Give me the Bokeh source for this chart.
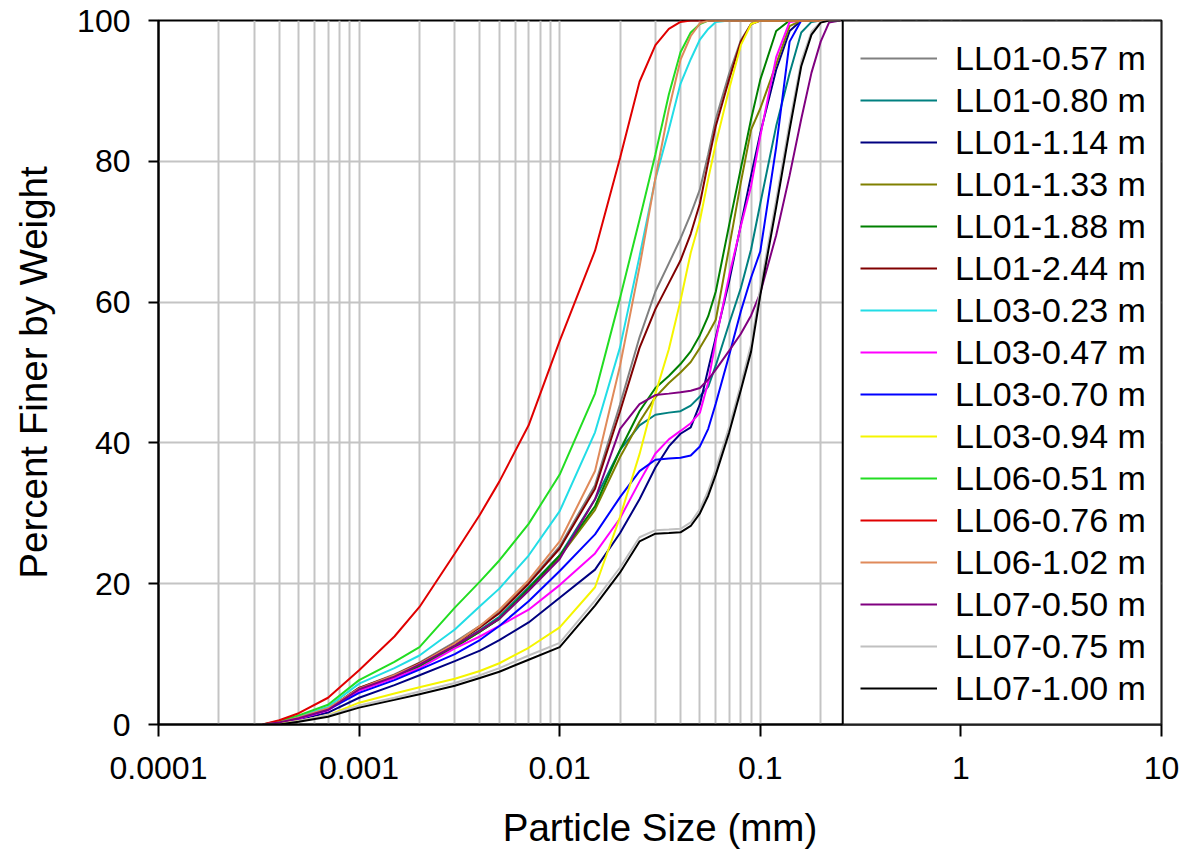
from bokeh.plotting import figure
from bokeh.models import Range1d, FixedTicker, BoxAnnotation
from bokeh.embed import file_html
from bokeh.resources import INLINE

# ---------------- data ----------------
SIZES = [0.00033, 0.0004, 0.0005, 0.0007, 0.001, 0.0015, 0.002, 0.003, 0.004, 0.005,
         0.007, 0.01, 0.015, 0.02, 0.025, 0.03, 0.035, 0.04, 0.045, 0.05,
         0.055, 0.06, 0.07, 0.08, 0.09, 0.1, 0.12, 0.14, 0.16, 0.18, 0.2, 0.22, 0.25]

SAMPLES = ["LL01-0.57 m", "LL01-0.80 m", "LL01-1.14 m", "LL01-1.33 m", "LL01-1.88 m",
           "LL01-2.44 m", "LL03-0.23 m", "LL03-0.47 m", "LL03-0.70 m", "LL03-0.94 m",
           "LL06-0.51 m", "LL06-0.76 m", "LL06-1.02 m", "LL07-0.50 m", "LL07-0.75 m",
           "LL07-1.00 m"]

LL01_057 = [0, 0.3, 0.9, 2.2, 5.2, 7.1, 8.8, 11.7, 14.0, 16.0, 20.2, 25.3, 34.0, 45.5, 55.0, 61.5, 65.5,
            69.0, 72.5, 76.0, 81.0, 86.0, 92.5, 97.2, 99.5, 100, 100, 100, 100, 100, 100, 100, 100]
LL01_080 = [0, 0.3, 0.9, 2.2, 5.0, 6.9, 8.5, 11.2, 13.4, 15.3, 19.5, 24.0, 32.0, 39.0, 42.5, 44.0, 44.3,
            44.5, 45.3, 46.6, 48.0, 51.0, 57.0, 62.0, 67.5, 74.0, 85.0, 92.5, 98.3, 99.8, 100, 100, 100]
LL01_114 = [0, 0.2, 0.7, 1.7, 3.8, 5.6, 7.0, 9.0, 10.5, 12.0, 14.5, 18.0, 22.0, 27.2, 32.0, 36.5, 39.5,
            41.3, 42.2, 45.5, 50.5, 55.0, 63.0, 71.0, 78.0, 84.0, 93.0, 98.5, 100, 100, 100, 100, 100]
LL01_133 = [0, 0.3, 0.9, 2.1, 4.9, 6.7, 8.3, 11.0, 13.2, 15.0, 19.2, 23.8, 30.5, 38.0, 43.0, 46.5, 48.5,
            50.0, 51.5, 53.5, 55.5, 57.5, 67.8, 77.0, 84.5, 87.5, 93.8, 99.2, 100, 100, 100, 100, 100]
LL01_188 = [0, 0.3, 0.9, 2.1, 4.9, 6.7, 8.3, 11.0, 13.2, 15.0, 19.3, 24.0, 31.0, 39.0, 44.5, 47.8, 49.5,
            51.2, 53.0, 55.3, 58.0, 61.5, 71.0, 79.0, 86.0, 91.6, 98.5, 100, 100, 100, 100, 100, 100]
LL01_244 = [0, 0.3, 0.9, 2.2, 5.2, 7.0, 8.7, 11.5, 13.8, 15.8, 20.0, 25.0, 33.5, 44.5, 53.5, 59.0, 62.7,
            65.9, 69.7, 74.0, 79.9, 85.0, 91.7, 97.0, 99.5, 100, 100, 100, 100, 100, 100, 100, 100]
LL03_023 = [0, 0.4, 1.1, 2.5, 5.8, 8.0, 9.8, 13.5, 16.8, 19.3, 24.0, 30.3, 41.5, 53.6, 66.5, 77.5, 84.5,
            91.0, 94.5, 97.3, 98.8, 99.8, 100, 100, 100, 100, 100, 100, 100, 100, 100, 100, 100]
LL03_047 = [0, 0.2, 0.8, 2.0, 4.8, 6.6, 8.0, 10.8, 12.5, 14.0, 16.3, 19.8, 24.3, 29.3, 34.5, 38.5, 40.5,
            41.7, 42.8, 44.3, 48.6, 54.6, 63.8, 70.8, 76.5, 83.6, 94.8, 99.8, 100, 100, 100, 100, 100]
LL03_070 = [0, 0.3, 0.9, 2.1, 4.5, 6.3, 7.8, 10.0, 12.0, 14.0, 17.5, 21.8, 27.0, 32.3, 36.0, 37.6, 37.8,
            37.9, 38.2, 39.5, 42.0, 45.6, 52.5, 58.7, 63.5, 67.2, 82.0, 97.0, 100, 100, 100, 100, 100]
LL03_094 = [0, 0.1, 0.5, 1.3, 3.1, 4.4, 5.3, 6.5, 7.6, 8.7, 10.9, 13.8, 19.5, 29.5, 38.4, 47.0, 53.3,
            60.2, 67.0, 71.6, 77.5, 82.5, 90.3, 96.5, 99.5, 100, 100, 100, 100, 100, 100, 100, 100]
LL06_051 = [0, 0.5, 1.3, 2.8, 6.3, 8.9, 11.0, 16.6, 20.3, 23.3, 28.5, 35.5, 47.0, 60.6, 71.7, 81.0, 89.5,
            95.5, 98.3, 99.5, 100, 100, 100, 100, 100, 100, 100, 100, 100, 100, 100, 100, 100]
LL06_076 = [0, 0.6, 1.6, 3.8, 7.7, 12.5, 16.7, 24.3, 29.8, 34.5, 42.5, 54.5, 67.3, 80.5, 91.3, 96.5, 98.8,
            99.8, 100, 100, 100, 100, 100, 100, 100, 100, 100, 100, 100, 100, 100, 100, 100]
LL06_102 = [0, 0.3, 1.0, 2.3, 5.1, 7.0, 8.6, 11.5, 14.0, 16.3, 20.5, 26.0, 36.0, 51.0, 65.0, 77.6, 87.4,
            94.4, 97.8, 99.6, 100, 100, 100, 100, 100, 100, 100, 100, 100, 100, 100, 100, 100]
LL07_050 = [0, 0.3, 0.9, 2.1, 5.0, 6.8, 8.5, 11.2, 13.3, 15.0, 19.0, 23.5, 32.0, 42.0, 45.5, 46.8, 47.0,
            47.2, 47.4, 47.8, 49.0, 50.4, 53.1, 55.5, 58.1, 61.3, 69.5, 78.0, 86.0, 92.6, 97.0, 99.7, 100]
LL07_075 = [0, 0, 0.5, 1.3, 2.7, 3.8, 4.7, 5.9, 7.0, 8.0, 9.8, 11.6, 17.6, 22.3, 26.6, 27.6, 27.7,
            27.8, 28.7, 30.6, 33.2, 36.3, 42.3, 48.3, 54.0, 62.0, 74.5, 85.5, 94.2, 98.4, 99.8, 100, 100]
LL07_100 = [0, 0, 0.4, 1.1, 2.4, 3.5, 4.3, 5.5, 6.6, 7.5, 9.2, 11.0, 16.9, 21.6, 26.0, 27.1, 27.2,
            27.3, 28.2, 30.0, 32.5, 35.5, 41.5, 47.5, 53.0, 61.0, 73.5, 84.5, 93.5, 98.0, 99.7, 100, 100]

SERIES = [LL01_057, LL01_080, LL01_114, LL01_133, LL01_188, LL01_244, LL03_023, LL03_047,
          LL03_070, LL03_094, LL06_051, LL06_076, LL06_102, LL07_050, LL07_075, LL07_100]

COLORS = ["#808080", "#008080", "#000080", "#808000", "#008000", "#800000", "#22dde6", "#ff00ff",
          "#0000ff", "#f5f500", "#22dd22", "#e00000", "#e08a5a", "#800080", "#c0c0c0", "#000000"]

X_TICKS = [0.0001, 0.001, 0.01, 0.1, 1, 10]
X_TICK_LABELS = ["0.0001", "0.001", "0.01", "0.1", "1", "10"]
Y_TICKS = [0, 20, 40, 60, 80, 100]

# ---------------- figure ----------------
FONT = "Liberation Sans"

p = figure(width=1186, height=857, x_axis_type="log",
           x_range=Range1d(0.0001, 10), y_range=Range1d(0, 100),
           output_backend="svg", toolbar_location=None,
           min_border_left=158, min_border_right=25, min_border_top=20, min_border_bottom=133)

minor = [m * t for t in X_TICKS[:-1] for m in range(2, 10)]
p.xaxis.ticker = FixedTicker(ticks=X_TICKS, minor_ticks=minor)
p.xaxis.major_label_overrides = {t: l for t, l in zip(X_TICKS, X_TICK_LABELS)}
p.yaxis.ticker = FixedTicker(ticks=Y_TICKS)

for ax in (p.xaxis, p.yaxis):
    ax.axis_line_width = 2
    ax.axis_line_color = "black"
    ax.major_tick_line_width = 2
    ax.major_tick_line_color = "black"
    ax.major_tick_in = 0
    ax.minor_tick_line_color = None
    ax.major_label_text_font = FONT
    ax.major_label_text_font_size = "32px"
    ax.major_label_text_color = "black"
    ax.major_label_text_line_height = 1.0
    ax.axis_label_text_font = FONT
    ax.axis_label_text_font_size = "38.5px"
    ax.axis_label_text_font_style = "normal"
    ax.axis_label_text_color = "black"
    ax.axis_label_text_line_height = 1.0

p.xaxis.major_tick_out = 12
p.xaxis.major_label_standoff = 20
p.xaxis.axis_label = "Particle Size (mm)"
p.xaxis.axis_label_standoff = 24
p.yaxis.major_tick_out = 10
p.yaxis.major_label_standoff = 18
p.yaxis.axis_label = "Percent Finer by Weight"
p.yaxis.axis_label_standoff = 19

p.xgrid.grid_line_color = "#c4c4c4"
p.xgrid.grid_line_width = 2
p.xgrid.minor_grid_line_color = "#c4c4c4"
p.xgrid.minor_grid_line_width = 2
p.ygrid.grid_line_color = "#c4c4c4"
p.ygrid.grid_line_width = 2

p.outline_line_color = "black"
p.outline_line_width = 2
p.outline_line_alpha = 1

for name, vals, col in zip(SAMPLES, SERIES, COLORS):
    p.line(SIZES, vals, line_color=col, line_width=2, legend_label=name)

box = BoxAnnotation(left=0.2576, right=10, bottom=0, top=100,
                    fill_color="white", fill_alpha=1,
                    line_color="black", line_width=2, line_alpha=1)
p.add_layout(box)

lg = p.legend[0]
p.center.remove(lg)
p.add_layout(lg, "center")
lg.location = (702, 15)
lg.background_fill_alpha = 0
lg.border_line_color = None
lg.padding = 0
lg.margin = 0
lg.spacing = 0
lg.glyph_width = 77
lg.glyph_height = 42
lg.label_height = 42
lg.label_standoff = 18
lg.label_text_font = FONT
lg.label_text_font_size = "34px"
lg.label_text_color = "black"

open("out.html", "w").write(file_html(p, INLINE))
